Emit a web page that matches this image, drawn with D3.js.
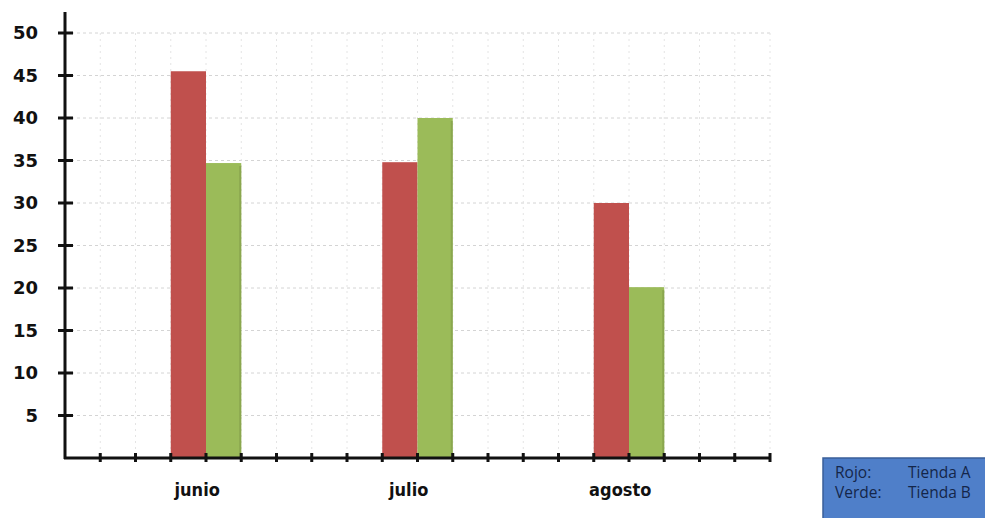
<!DOCTYPE html>
<html>
<head>
<meta charset="utf-8">
<script src="https://d3js.org/d3.v7.min.js"></script>
<style>
  body { margin: 0; background: #fff; }
  svg { display: block; }
</style>
</head>
<body>
<svg id="chart" width="985" height="518"></svg>
<script>
// data
const months = ["junio", "julio", "agosto"];
const tiendaA = [45.5, 34.8, 30];   // rojo
const tiendaB = [34.7, 40, 20.1];   // verde
const monthSlot = [4, 10, 16];      // grid column where the pair of bars meets
const yTicks = [5, 10, 15, 20, 25, 30, 35, 40, 45, 50];
const legendRows = [["Rojo:", "Tienda A"], ["Verde:", "Tienda B"]];

const svg = d3.select("#chart");

// 20 grid columns between the axis and the right edge of the grid
const x = d3.scaleLinear().domain([0, 20]).range([65, 770]);
const y = d3.scaleLinear().domain([0, 50]).range([458, 33]);

// grid
const grid = svg.append("g").attr("class", "grid");
grid.selectAll(".hgrid")
  .data(yTicks).enter()
  .append("line")
  .attr("x1", x(0)).attr("x2", x(20))
  .attr("y1", d => y(d)).attr("y2", d => y(d))
  .attr("stroke", "#d4d4d4")
  .attr("stroke-width", 1)
  .attr("stroke-dasharray", "3,3");

grid.selectAll(".vgrid")
  .data(d3.range(1, 21)).enter()
  .append("line")
  .attr("x1", d => x(d)).attr("x2", d => x(d))
  .attr("y1", y(50)).attr("y2", y(0))
  .attr("stroke", "#e4e4e4")
  .attr("stroke-width", 1)
  .attr("stroke-dasharray", "2,4");

// bars, each one grid column wide
const colW = x(1) - x(0);
const bars = svg.append("g");

bars.selectAll(".barA")
  .data(tiendaA).enter()
  .append("rect")
  .attr("x", (d, i) => x(monthSlot[i] - 1))
  .attr("y", d => y(d))
  .attr("width", colW)
  .attr("height", d => y(0) - y(d))
  .attr("fill", "#c0504d");

bars.selectAll(".barB")
  .data(tiendaB).enter()
  .append("rect")
  .attr("x", (d, i) => x(monthSlot[i]))
  .attr("y", d => y(d))
  .attr("width", colW)
  .attr("height", d => y(0) - y(d))
  .attr("fill", "#9bbb59");

// slight shadow on the right edge of the green bars
bars.selectAll(".shadowB")
  .data(tiendaB).enter()
  .append("rect")
  .attr("x", (d, i) => x(monthSlot[i] + 1) - 2)
  .attr("y", d => y(d) + 3)
  .attr("width", 2)
  .attr("height", d => y(0) - y(d) - 3)
  .attr("fill", "#7f9a48")
  .attr("opacity", 0.6);

// y axis
const yAxis = d3.axisLeft(y)
  .tickValues(yTicks)
  .tickSize(0)
  .tickPadding(27);

const gy = svg.append("g")
  .attr("transform", "translate(" + x(0) + ",0)")
  .call(yAxis);
gy.select(".domain").remove();
gy.selectAll("text")
  .attr("font-family", "DejaVu Sans")
  .attr("font-weight", "bold")
  .attr("font-size", "18px")
  .attr("fill", "#111");

gy.selectAll(".tickmark")
  .data(yTicks).enter()
  .append("line")
  .attr("x1", -7).attr("x2", 8)
  .attr("y1", d => y(d)).attr("y2", d => y(d))
  .attr("stroke", "#111")
  .attr("stroke-width", 3);

svg.append("line")
  .attr("x1", x(0)).attr("x2", x(0))
  .attr("y1", 12).attr("y2", y(0) + 1)
  .attr("stroke", "#111")
  .attr("stroke-width", 3);

// x axis
const gx = svg.append("g");
gx.append("line")
  .attr("x1", x(0) - 1).attr("x2", x(20) + 1)
  .attr("y1", y(0)).attr("y2", y(0))
  .attr("stroke", "#111")
  .attr("stroke-width", 3);

gx.selectAll(".xtick")
  .data(d3.range(1, 21)).enter()
  .append("line")
  .attr("x1", d => x(d)).attr("x2", d => x(d))
  .attr("y1", y(0) - 5).attr("y2", y(0) + 4)
  .attr("stroke", "#111")
  .attr("stroke-width", 3);

gx.selectAll(".xlabel")
  .data(months).enter()
  .append("text")
  .attr("x", (d, i) => x(monthSlot[i] - 0.25))
  .attr("y", 496)
  .attr("text-anchor", "middle")
  .attr("font-family", "DejaVu Sans Condensed, DejaVu Sans")
  .attr("font-weight", "bold")
  .attr("font-size", "18px")
  .attr("fill", "#111")
  .text(d => d);

// legend box
const legend = svg.append("g");
legend.append("rect")
  .attr("x", 823).attr("y", 458)
  .attr("width", 170).attr("height", 70)
  .attr("fill", "#4f7fc9")
  .attr("stroke", "#3a5f99")
  .attr("stroke-width", 1.5);

legend.selectAll(".lrow")
  .data(legendRows).enter()
  .append("g")
  .each(function(d, i) {
    const row = d3.select(this);
    row.append("text")
      .attr("x", 835).attr("y", 478 + i * 20)
      .text(d[0]);
    row.append("text")
      .attr("x", 908).attr("y", 478 + i * 20)
      .text(d[1]);
  })
  .selectAll("text")
  .attr("font-family", "Open Sans")
  .attr("font-size", "15.5px")
  .attr("fill", "#14264a");
</script>
</body>
</html>
